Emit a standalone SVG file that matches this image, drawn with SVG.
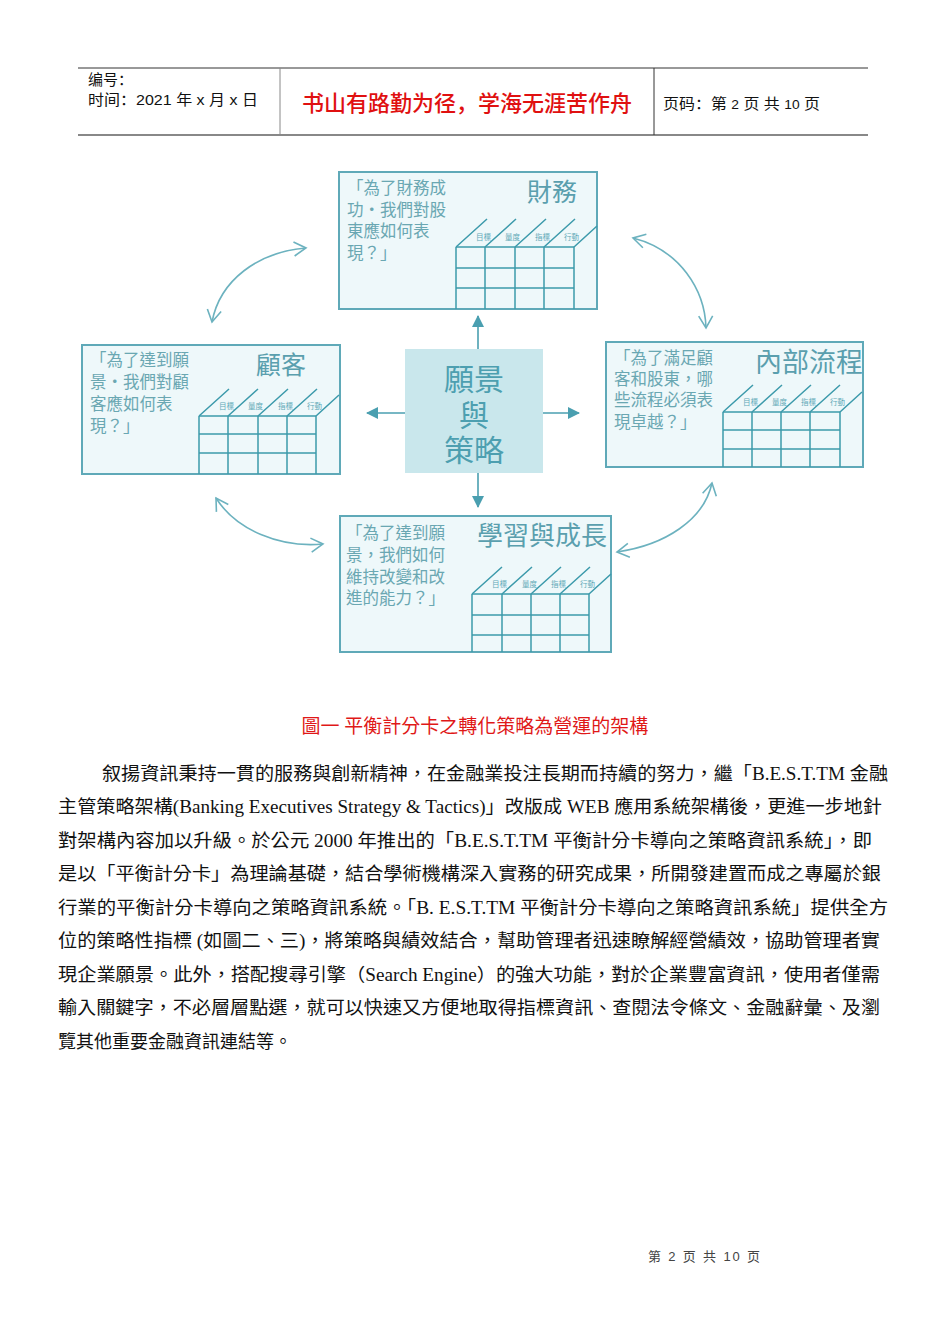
<svg xmlns="http://www.w3.org/2000/svg" width="950" height="1344" viewBox="0 0 950 1344">
<style>
.hdr{font-family:"Liberation Sans","Noto Sans CJK SC",sans-serif;font-size:15px;fill:#111}
.red{font-family:"Noto Sans CJK SC",sans-serif;font-size:22px;font-weight:500;fill:#e01010}
.box{fill:#eef8fa;stroke:#5fa9b8;stroke-width:2}
.q{font-family:"Liberation Serif","Noto Sans CJK TC",serif;font-size:16.5px;fill:#6aa7b2}
.ttl{font-family:"Liberation Serif","Noto Sans CJK TC",serif;fill:#5a9fae}
.grid{stroke:#3c9aab;stroke-width:1.5;fill:none}
.lab{font-family:"Noto Sans CJK TC",sans-serif;font-size:7.5px;fill:#5fa9b8}
.cen{font-family:"Liberation Serif","Noto Sans CJK TC",serif;font-size:30px;fill:#4d9fb0;text-anchor:middle}
.sa{stroke:#4a9fb0;stroke-width:1.6;fill:none}
.ca{stroke:#6cb2bf;stroke-width:1.6;fill:none;marker-start:url(#chev);marker-end:url(#chev)}
.body{font-family:"Liberation Serif","Noto Sans CJK TC",serif;font-size:18px;fill:#111}
.cap{font-family:"Liberation Serif","Noto Sans CJK TC",serif;font-size:19px;fill:#e01818;text-anchor:middle}
.foot{font-family:"Liberation Sans","Noto Sans CJK SC",sans-serif;font-size:13px;fill:#444}
</style>
<defs>
<marker id="chev" viewBox="-14 -9 16 18" markerWidth="16" markerHeight="18" markerUnits="userSpaceOnUse" orient="auto-start-reverse" refX="0" refY="0">
<path d="M -12 -7 L 0 0 L -12 7" fill="none" stroke="#6cb2bf" stroke-width="1.6"/>
</marker>
<marker id="tri" viewBox="0 -6 12 12" markerWidth="12" markerHeight="12" markerUnits="userSpaceOnUse" orient="auto" refX="11" refY="0">
<path d="M 0 -6 L 12 0 L 0 6 Z" fill="#4a9fb0"/>
</marker>
</defs>
<rect width="950" height="1344" fill="#ffffff"/>

<g id="header">
<line x1="78" y1="68" x2="868" y2="68" stroke="#333" stroke-width="1"/>
<line x1="78" y1="135" x2="868" y2="135" stroke="#888" stroke-width="2"/>
<line x1="280" y1="68" x2="280" y2="135" stroke="#888" stroke-width="1"/>
<line x1="654" y1="68" x2="654" y2="135" stroke="#333" stroke-width="1"/>
<text class="hdr" x="88" y="85">编号：</text>
<text class="hdr" x="88" y="105" textLength="170" lengthAdjust="spacingAndGlyphs">时间：2021 年 x 月 x 日</text>
<text class="red" x="467" y="111" text-anchor="middle">书山有路勤为径，学海无涯苦作舟</text>
<text class="hdr" x="663" y="109" textLength="157" lengthAdjust="spacingAndGlyphs">页码：第 <tspan font-size="13">2</tspan> 页  共 <tspan font-size="13">10</tspan> 页</text>
</g>

<g id="connectors">
<line class="sa" x1="478" y1="349" x2="478" y2="316" marker-end="url(#tri)"/>
<line class="sa" x1="478" y1="473" x2="478" y2="507" marker-end="url(#tri)"/>
<line class="sa" x1="405" y1="413" x2="367" y2="413" marker-end="url(#tri)"/>
<line class="sa" x1="543" y1="413" x2="579" y2="413" marker-end="url(#tri)"/>
<path class="ca" d="M 212 322 C 220 280 258 252 306 248"/>
<path class="ca" d="M 633 238 C 680 250 705 290 706 328"/>
<path class="ca" d="M 216 498 C 236 530 280 548 323 544"/>
<path class="ca" d="M 617 552 C 665 545 704 520 712 483"/>
</g>

<g id="node-finance">
<rect class="box" x="339" y="172" width="258" height="137"/>
<text class="q" x="347" y="194">「為了財務成</text>
<text class="q" x="347" y="216">功・我們對股</text>
<text class="q" x="347" y="237">東應如何表</text>
<text class="q" x="347" y="259">現？」</text>
<text class="ttl" x="527" y="201" font-size="25">財務</text>
<g class="grid">
<path d="M456 247H574M456 268H574M456 288H574M456 247V309M485 247V309M515 247V309M544 247V309M574 247V309"/>
<path d="M456 247L487 219M485 247L516 219M515 247L546 219M544 247L575 219M574 247L597 226"/>
</g>
<text class="lab" x="476" y="240">目標</text><text class="lab" x="505" y="240">量度</text><text class="lab" x="535" y="240">指標</text><text class="lab" x="564" y="240">行動</text>
</g>

<g id="node-customer">
<rect class="box" x="82" y="345" width="258" height="129"/>
<text class="q" x="90" y="366">「為了達到願</text>
<text class="q" x="90" y="388">景・我們對顧</text>
<text class="q" x="90" y="410">客應如何表</text>
<text class="q" x="90" y="432">現？」</text>
<text class="ttl" x="256" y="374" font-size="25">顧客</text>
<g class="grid">
<path d="M199 416H316M199 434H316M199 453H316M199 416V474M228 416V474M258 416V474M287 416V474M316 416V474"/>
<path d="M199 416L229 389M228 416L258 389M258 416L288 389M287 416L317 389M316 416L339 395"/>
</g>
<text class="lab" x="219" y="409">目標</text><text class="lab" x="248" y="409">量度</text><text class="lab" x="278" y="409">指標</text><text class="lab" x="307" y="409">行動</text>
</g>

<g id="node-vision">
<rect x="405" y="349" width="138" height="124" fill="#c9e7ec"/>
<text class="cen" x="474" y="390">願景</text>
<text class="cen" x="474" y="426">與</text>
<text class="cen" x="474" y="461">策略</text>
</g>

<g id="node-process">
<rect class="box" x="606" y="342" width="257" height="125"/>
<text class="q" x="614" y="364">「為了滿足顧</text>
<text class="q" x="614" y="385">客和股東，哪</text>
<text class="q" x="614" y="406">些流程必須表</text>
<text class="q" x="614" y="428">現卓越？」</text>
<text class="ttl" x="755" y="372" font-size="27">內部流程</text>
<g class="grid">
<path d="M723 412H840M723 430H840M723 449H840M723 412V467M752 412V467M781 412V467M810 412V467M840 412V467"/>
<path d="M723 412L753 385M752 412L782 385M781 412L811 385M810 412L840 385M840 412L862 392"/>
</g>
<text class="lab" x="743" y="405">目標</text><text class="lab" x="772" y="405">量度</text><text class="lab" x="801" y="405">指標</text><text class="lab" x="830" y="405">行動</text>
</g>

<g id="node-learning">
<rect class="box" x="340" y="516" width="271" height="136"/>
<text class="q" x="346" y="539">「為了達到願</text>
<text class="q" x="346" y="561">景，我們如何</text>
<text class="q" x="346" y="583">維持改變和改</text>
<text class="q" x="346" y="604">進的能力？」</text>
<text class="ttl" x="477" y="545" font-size="26">學習與成長</text>
<g class="grid">
<path d="M472 594H589M472 615H589M472 635H589M472 594V652M502 594V652M531 594V652M560 594V652M589 594V652"/>
<path d="M472 594L502 567M502 594L532 567M531 594L561 567M560 594L590 567M589 594L611 574"/>
</g>
<text class="lab" x="492" y="587">目標</text><text class="lab" x="522" y="587">量度</text><text class="lab" x="551" y="587">指標</text><text class="lab" x="580" y="587">行動</text>
</g>

<g id="caption">
<text class="cap" x="475" y="733">圖一 平衡計分卡之轉化策略為營運的架構</text>
</g>

<g id="paragraph">
<text class="body" x="102" y="780" textLength="786" lengthAdjust="spacingAndGlyphs">叙揚資訊秉持一貫的服務與創新精神，在金融業投注長期而持續的努力，繼「B.E.S.T.TM 金融</text>
<text class="body" x="58" y="813" textLength="824" lengthAdjust="spacingAndGlyphs">主管策略架構(Banking Executives Strategy &amp; Tactics)」改版成 WEB 應用系統架構後，更進一步地針</text>
<text class="body" x="58" y="847" textLength="814" lengthAdjust="spacingAndGlyphs">對架構內容加以升級。於公元 2000 年推出的「B.E.S.T.TM 平衡計分卡導向之策略資訊系統」，即</text>
<text class="body" x="58" y="880" textLength="823" lengthAdjust="spacingAndGlyphs">是以「平衡計分卡」為理論基礎，結合學術機構深入實務的研究成果，所開發建置而成之專屬於銀</text>
<text class="body" x="58" y="914" textLength="830" lengthAdjust="spacingAndGlyphs">行業的平衡計分卡導向之策略資訊系統。「B. E.S.T.TM 平衡計分卡導向之策略資訊系統」提供全方</text>
<text class="body" x="58" y="947" textLength="822" lengthAdjust="spacingAndGlyphs">位的策略性指標 (如圖二、三)，將策略與績效結合，幫助管理者迅速瞭解經營績效，協助管理者實</text>
<text class="body" x="58" y="981" textLength="822" lengthAdjust="spacingAndGlyphs">現企業願景。此外，搭配搜尋引擎（Search Engine）的強大功能，對於企業豐富資訊，使用者僅需</text>
<text class="body" x="58" y="1014" textLength="822" lengthAdjust="spacingAndGlyphs">輸入關鍵字，不必層層點選，就可以快速又方便地取得指標資訊、查閱法令條文、金融辭彙、及瀏</text>
<text class="body" x="58" y="1048">覽其他重要金融資訊連結等。</text>
</g>

<g id="footer">
<text class="foot" x="648" y="1261" textLength="112" lengthAdjust="spacing">第 2 页 共 10 页</text>
</g>
</svg>
